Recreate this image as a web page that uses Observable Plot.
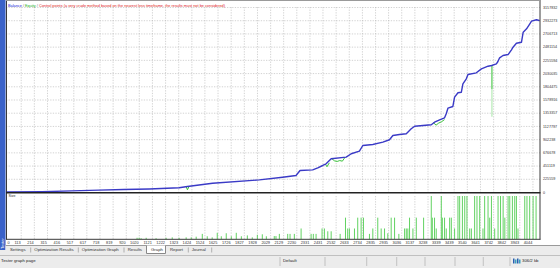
<!DOCTYPE html>
<html><head><meta charset="utf-8">
<script src="https://cdn.jsdelivr.net/npm/d3@7"></script>
<script src="https://cdn.jsdelivr.net/npm/@observablehq/plot@0.6"></script>
<style>
body{margin:0;background:#fff}
#root{position:relative;width:560px;height:268px;overflow:hidden;background:#ececec}
#root svg{position:absolute;left:0}
</style>
</head><body><div id="root"></div>
<script>
// ---- data ----
const xTicks = [0,113,214,315,416,517,617,718,819,920,1020,1121,1222,1323,1424,1524,1625,1726,1827,1928,2029,2129,2230,2331,2431,2532,2633,2734,2835,2935,3036,3137,3238,3339,3439,3540,3641,3742,3842,3943,4044];
const yTicks = [0,225559,451119,676678,902238,1127797,1353357,1578916,1804475,2030035,2255594,2481154,2706713,2932273,3157832];

const balTrade = [0,272,500,711,900,1096,1326,1390,1583,1942,2121,2224,2255,2352,2391,2429,2455,2494,2609,2648,2711,2737,2814,2891,2942,2968,3019,3071,3109,3135,3263,3288,3327,3365,3378,3391,3429,3442,3468,3494,3506,3532,3545,3609,3648,3699,3727,3763,3775,3788,3814,3853,3879,3891,3917,3956,3969,3995,4020,4033,4071,4091];
const balValue = [10000,14000,28000,41000,50000,60000,80000,102000,159000,216000,261000,290000,375000,387000,422000,461000,490000,575000,603000,661000,705000,802000,819000,859000,900000,973000,990000,1002000,1087000,1132000,1156000,1200000,1241000,1275000,1343000,1439000,1468000,1627000,1702000,1712000,1855000,1941000,2014000,2043000,2111000,2156000,2168000,2197000,2236000,2299000,2338000,2355000,2436000,2480000,2548000,2565000,2736000,2794000,2880000,2924000,2948000,2936000];

// equity where it leaves the balance line (episodes)
const eqEpisode = [1,1,1, 2,2,2, 3,3,3,3,3,3, 4,4,4,4,4];
const eqTrade   = [1380,1390,1402, 2450,2462,2478, 2500,2520,2540,2560,2580,2600, 3280,3300,3320,3340,3362];
const eqValue   = [100000,46000,102000, 480000,440000,500000, 575000,540000,530000,545000,535000,600000, 1190000,1150000,1185000,1205000,1240000];
// one deep equity drawdown spike
const spikeTrade = [3729];
const spikeTop = [2168000];
const spikeMid = [1755000];
const spikeLow = [1285000];

const sizeTrade = [1003,1019,1034,1073,1149,1226,1273,1326,1380,1419,1457,1504,1542,1580,1619,1650,1688,1727,1765,1804,1850,1888,1927,1965,1996,
 2057,2070,2096,2160,2178,2211,2263,2340,2357,2378,2424,2442,2468,2494,2563,2604,2621,2634,2673,2698,2724,2742,2788,2814,2852,2878,2904,2929,2955,2981,3014,3058,3071,3083,3096,3122,3148,3204,3263,3271,3288,3301,3340,3348,3365,3378,3404,3417,3442,3468,3481,3502,3520,3537,3558,3571,3596,3614,3635,3660,3673,3699,3712,3725,3750,3776,3795,3815,3828,3853,3866,3886,3904,3917,3929,3981,3998,4019,4045,4068];
const sizeLots = [0.07,0.07,0.05,0.07,0.05,0.07,0.09,0.07,0.09,0.09,0.12,0.25,0.14,0.09,0.3,0.14,0.28,0.14,0.3,0.14,0.18,0.09,0.21,0.23,0.14,
 0.15,0.15,0.25,0.25,0.25,0.25,0.5,0.25,0.25,0.25,0.5,0.5,0.37,0.37,0.25,1,0.5,0.5,0.5,1,1,1,0.25,0.5,1,0.5,0.5,0.28,1,1,0.25,0.5,0.5,0.5,1,0.5,1,1,2,1,1,0.5,2,1,1,0.5,1,1,0.5,2,2,2,2,2,0.5,0.5,2,2,2,0.5,2,2,1,2,0.5,2,2,2,1,2,2,2,2,2,0.5,2,2,2,2,2];

const tabs = ["Settings","Optimization Results","Optimization Graph","Results","Graph","Report","Journal"];
const tabX = [10,34.3,81.7,127.7,151,170,191.7];
const tabSep = [30.7,78.3,124,188.3,211.7];

// ---- build tables ----
const balData = balTrade.map((t,i)=>({trade:t, value:balValue[i]}));
const eqData = eqTrade.map((t,i)=>({trade:t, value:eqValue[i], ep:eqEpisode[i]}));
const spikeData = spikeTrade.map((t,i)=>({trade:t, top:spikeTop[i], mid:spikeMid[i], low:spikeLow[i]}));
const sizeData = sizeTrade.map((t,i)=>({trade:t, lots:sizeLots[i]}));

const FONT = "Liberation Sans, Arial, sans-serif";
const root = document.getElementById("root");
const X_MAX = 4102, Y_MAX = 3157832;

// ---- background chrome ----
const bg = d3.create("svg").attr("width",560).attr("height",268).style("top","0px");
bg.append("rect").attr("x",6).attr("y",0).attr("width",554).attr("height",245).attr("fill","#fff");
bg.append("rect").attr("x",0).attr("y",0).attr("width",5.5).attr("height",250).attr("fill","#3a62c9");
bg.append("text").attr("transform","translate(4,249) rotate(-90)").attr("font-family",FONT).attr("font-size",4).attr("fill","#fff").text("Tester");
// tab row
bg.append("rect").attr("x",5.5).attr("y",245).attr("width",555).attr("height",10).attr("fill","#ececec");
bg.append("line").attr("x1",5.5).attr("x2",560).attr("y1",245.5).attr("y2",245.5).attr("stroke","#9a9a9a");
bg.append("path").attr("d","M146.5,245.5V253.5H165.5V245.5").attr("fill","#fff").attr("stroke","#888");
tabs.forEach((t,i)=>bg.append("text").attr("x",tabX[i]).attr("y",250).attr("dominant-baseline","middle").attr("font-family",FONT).attr("font-size",4.3).attr("fill","#333").text(t));
tabSep.forEach(x=>bg.append("line").attr("x1",x).attr("x2",x).attr("y1",247.5).attr("y2",252.5).attr("stroke","#888").attr("stroke-width",0.6));
// status bar
bg.append("rect").attr("x",0).attr("y",255).attr("width",560).attr("height",13).attr("fill","#ececec");
bg.append("line").attr("x1",0).attr("x2",560).attr("y1",255.5).attr("y2",255.5).attr("stroke","#c0c0c0");
bg.append("text").attr("x",1).attr("y",261).attr("dominant-baseline","middle").attr("font-family",FONT).attr("font-size",4.3).attr("fill","#222").text("Tester graph page");
bg.append("text").attr("x",283).attr("y",261).attr("dominant-baseline","middle").attr("font-family",FONT).attr("font-size",4.3).attr("fill","#222").text("Default");
[280,325,366.7,396.7,425,455,483.3,510].forEach(x=>bg.append("line").attr("x1",x).attr("x2",x).attr("y1",257).attr("y2",266).attr("stroke","#b0b0b0").attr("stroke-width",0.7));
[0,1,2,3].forEach(i=>bg.append("rect").attr("x",513+i*2).attr("y",258.5+(i%2)).attr("width",1.5).attr("height",5-(i%2)).attr("fill",i%2?"#3aa0c0":"#2a60b0"));
bg.append("text").attr("x",522).attr("y",261).attr("dominant-baseline","middle").attr("font-family",FONT).attr("font-size",4.3).attr("fill","#222").text("306/2 kb");
root.appendChild(bg.node());

// ---- main chart ----
const grid = {stroke:"#b5b5b5", strokeOpacity:1, strokeWidth:0.6, strokeDasharray:"1.3,1.3"};
const main = Plot.plot({
  width:560, height:194, marginLeft:6, marginRight:20, marginTop:7, marginBottom:2,
  x:{domain:[0,X_MAX], axis:null},
  y:{domain:[0,Y_MAX], axis:null},
  style:{background:"transparent", overflow:"visible", fontFamily:FONT},
  marks:[
    Plot.ruleY(yTicks.slice(1), grid),
    Plot.ruleX(xTicks.slice(1), grid),
    Plot.text(yTicks, {x:X_MAX, y:d=>d, text:d=>String(d), textAnchor:"start", dx:2.5, fontSize:3.7, fill:"#333"}),
    Plot.line(eqData, {x:"trade", y:"value", z:"ep", stroke:"#3cc33c", strokeWidth:1}),
    Plot.ruleX(spikeData, {x:"trade", y1:"top", y2:"mid", stroke:"#2fbf2f", strokeWidth:1}),
    Plot.ruleX(spikeData, {x:"trade", y1:"mid", y2:"low", stroke:"#a6e6a6", strokeWidth:1}),
    Plot.line(balData, {x:"trade", y:"value", stroke:"#3a3ac6", strokeWidth:1.4})
  ]
});
main.style.top = "0px";
root.appendChild(main);

// ---- size panel ----
const size = Plot.plot({
  width:560, height:53, marginLeft:6, marginRight:20, marginTop:4, marginBottom:5.7,
  x:{domain:[0,X_MAX], axis:null},
  y:{domain:[0,2], axis:null},
  style:{background:"transparent", overflow:"visible", fontFamily:FONT},
  marks:[
    Plot.ruleX(xTicks.slice(1), grid),
    Plot.ruleX(sizeData, {x:"trade", y1:0, y2:"lots", stroke:"#62d262", strokeWidth:1}),
    Plot.text(xTicks.slice(1), {x:d=>d, text:d=>String(d), frameAnchor:"bottom", dy:3, dx:-0.6, textAnchor:"end", lineAnchor:"middle", fontSize:3.9, fill:"#333"}),
    Plot.text(xTicks.slice(0,1), {x:d=>d, text:d=>String(d), frameAnchor:"bottom", dy:3, dx:1, textAnchor:"start", lineAnchor:"middle", fontSize:3.9, fill:"#333"})
  ]
});
size.style.top = "192px";
root.appendChild(size);

// ---- frame overlay and header ----
const ov = d3.create("svg").attr("width",560).attr("height",268).style("top","0px").style("pointer-events","none");
ov.append("line").attr("x1",6.5).attr("x2",6.5).attr("y1",0).attr("y2",239.5).attr("stroke","#3a3a3a");
ov.append("line").attr("x1",540).attr("x2",540).attr("y1",0).attr("y2",239.5).attr("stroke","#3a3a3a");
ov.append("line").attr("x1",6).attr("x2",540.5).attr("y1",0.5).attr("y2",0.5).attr("stroke","#9a9a9a");
ov.append("line").attr("x1",6).attr("x2",540.5).attr("y1",192.8).attr("y2",192.8).attr("stroke","#222").attr("stroke-width",1.5);
ov.append("line").attr("x1",6).attr("x2",540.5).attr("y1",239.3).attr("y2",239.3).attr("stroke","#3a3a3a");
ov.append("text").attr("x",8.5).attr("y",196.2).attr("dominant-baseline","middle").attr("font-family",FONT).attr("font-size",3.6).attr("fill","#333").text("Size");
const hdr = ov.append("text").attr("x",8).attr("y",5.8).attr("dominant-baseline","middle").attr("font-family",FONT).attr("font-size",3.6)
  .attr("textLength",217).attr("lengthAdjust","spacingAndGlyphs");
hdr.append("tspan").attr("fill","#2020d8").text("Balance");
hdr.append("tspan").attr("fill","#666").text(" / ");
hdr.append("tspan").attr("fill","#22b022").text("Equity");
hdr.append("tspan").attr("fill","#666").text(" / ");
hdr.append("tspan").attr("fill","#e02020").text("Control points (a very crude method based on the nearest less timeframe, the results must not be considered)");
root.appendChild(ov.node());
</script>
</body></html>
